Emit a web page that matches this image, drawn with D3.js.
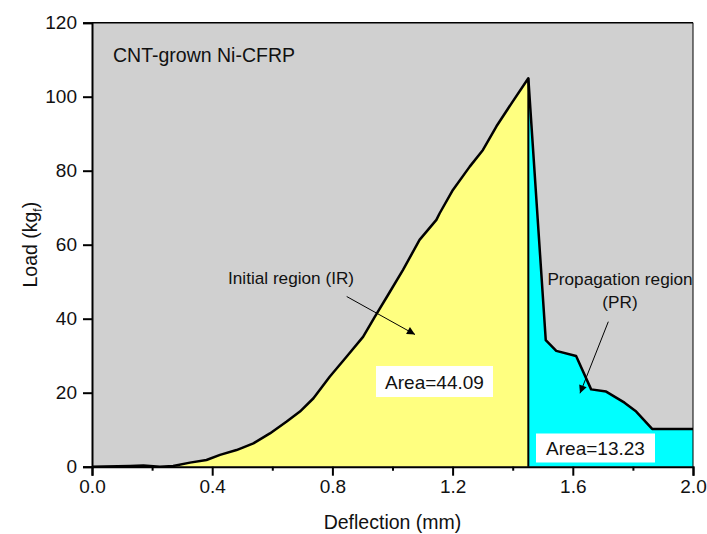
<!DOCTYPE html>
<html>
<head>
<meta charset="utf-8">
<script src="https://cdn.jsdelivr.net/npm/d3@7"></script>
<style>
  body { margin: 0; background: #fff; }
  svg text { font-family: "Liberation Sans", Arial, sans-serif; fill: #111; }
</style>
</head>
<body>
<div id="chart"></div>
<script>
// measured curve (deflection mm, load kgf)
const deflection = [0, 0.127, 0.171, 0.226, 0.27, 0.326, 0.381, 0.426, 0.481, 0.537, 0.592, 0.648,
  0.692, 0.737, 0.791, 0.847, 0.902, 0.941, 0.985, 1.035, 1.09, 1.146, 1.157, 1.201, 1.257,
  1.301, 1.346, 1.396, 1.452,
  1.51, 1.545, 1.611, 1.661, 1.711, 1.772, 1.811, 1.864, 2.0];
const load = [0, 0.2, 0.3, 0, 0.2, 1.1, 1.8, 3.2, 4.5, 6.3, 9.0, 12.2,
  14.9, 18.5, 24.3, 29.7, 35.1, 40.5, 46.4, 53.2, 61.3, 66.7, 68.5, 74.8, 81.1,
  85.6, 92.0, 98.2, 105.0,
  34.2, 31.3, 29.9, 20.9, 20.3, 17.3, 14.9, 10.2, 10.2];
const peakIndex = 28;
const xTicks = [0, 0.4, 0.8, 1.2, 1.6, 2.0];
const xMinorTicks = [0.2, 0.6, 1.0, 1.4, 1.8];
const yTicks = [0, 20, 40, 60, 80, 100, 120];

const width = 707, height = 534;
const margin = { left: 92, top: 22.7, right: 14, bottom: 67.3 };

const pts = deflection.map((d, i) => ({ x: d, y: load[i] }));
const initial = pts.slice(0, peakIndex + 1);
const propagation = pts.slice(peakIndex);

const svg = d3.select("#chart").append("svg")
  .attr("width", width).attr("height", height);

const x = d3.scaleLinear().domain([0, 2]).range([margin.left, width - margin.right]);
const y = d3.scaleLinear().domain([0, 120]).range([height - margin.bottom, margin.top]);

// plot background
svg.append("rect")
  .attr("x", x(0)).attr("y", y(120))
  .attr("width", x(2) - x(0)).attr("height", y(0) - y(120))
  .attr("fill", "#d0d0d0");

const area = d3.area().x(d => x(d.x)).y0(y(0)).y1(d => y(d.y));
svg.append("path").datum(initial).attr("d", area).attr("fill", "#ffff80");
svg.append("path").datum(propagation).attr("d", area).attr("fill", "#00ffff");

// divider at peak
svg.append("line")
  .attr("x1", x(deflection[peakIndex])).attr("x2", x(deflection[peakIndex]))
  .attr("y1", y(load[peakIndex])).attr("y2", y(0))
  .attr("stroke", "#000").attr("stroke-width", 2);

const line = d3.line().x(d => x(d.x)).y(d => y(d.y));
svg.append("path").datum(pts).attr("d", line)
  .attr("fill", "none").attr("stroke", "#000")
  .attr("stroke-width", 2.5).attr("stroke-linejoin", "round");

// frame top/right
svg.append("line").attr("x1", x(0)).attr("x2", x(2)).attr("y1", y(120)).attr("y2", y(120))
  .attr("stroke", "#000").attr("stroke-width", 1.5);
svg.append("line").attr("x1", x(2)).attr("x2", x(2)).attr("y1", y(120)).attr("y2", y(0))
  .attr("stroke", "#000").attr("stroke-width", 1);

// axes
svg.append("g").attr("transform", `translate(0,${y(0)})`)
  .call(d3.axisBottom(x).tickValues(xTicks).tickFormat(d3.format(".1f")).tickSize(9).tickPadding(4));
svg.append("g").attr("transform", `translate(0,${y(0)})`)
  .call(d3.axisBottom(x).tickValues(xMinorTicks).tickFormat("").tickSize(4))
  .select(".domain").remove();
svg.append("g").attr("transform", `translate(${x(0)},0)`)
  .call(d3.axisLeft(y).tickValues(yTicks).tickSize(9).tickPadding(6));

svg.selectAll(".domain").attr("stroke-width", 2);
svg.selectAll(".tick line").attr("stroke-width", 2);
svg.selectAll(".tick text").style("font-size", "19px").attr("fill", "#111");

// axis titles
svg.append("text").attr("x", (x(0) + x(2)) / 2).attr("y", 529)
  .attr("text-anchor", "middle").style("font-size", "19.5px").text("Deflection (mm)");
const yl = svg.append("text")
  .attr("transform", `translate(37,${(y(0) + y(120)) / 2}) rotate(-90)`)
  .attr("text-anchor", "middle").style("font-size", "19.5px");
yl.append("tspan").text("Load (kg");
yl.append("tspan").attr("dy", 5).style("font-size", "12px").text("f");
yl.append("tspan").attr("dy", -5).text(")");

// annotations
svg.append("text").attr("x", 113).attr("y", 62).style("font-size", "19.5px").text("CNT-grown Ni-CFRP");
svg.append("text").attr("x", 228).attr("y", 284).style("font-size", "17.2px").text("Initial region (IR)");
svg.append("text").attr("x", 620).attr("y", 285).attr("text-anchor", "middle")
  .style("font-size", "17.2px").text("Propagation region");
svg.append("text").attr("x", 620).attr("y", 308).attr("text-anchor", "middle")
  .style("font-size", "17.2px").text("(PR)");

const defs = svg.append("defs");
defs.append("marker").attr("id", "arrow").attr("viewBox", "0 0 10 10")
  .attr("refX", 10).attr("refY", 5).attr("markerWidth", 12).attr("markerHeight", 8)
  .attr("markerUnits", "userSpaceOnUse").attr("orient", "auto")
  .append("path").attr("d", "M0,0 L10,5 L0,10 z").attr("fill", "#000");

svg.append("line").attr("x1", 346.7).attr("y1", 296.5).attr("x2", 415).attr("y2", 334.5)
  .attr("stroke", "#000").attr("stroke-width", 1).attr("marker-end", "url(#arrow)");
svg.append("line").attr("x1", 608.3).attr("y1", 321.7).attr("x2", 580).attr("y2", 393.3)
  .attr("stroke", "#000").attr("stroke-width", 1).attr("marker-end", "url(#arrow)");

function box(bx, by, bw, bh, label) {
  svg.append("rect").attr("x", bx).attr("y", by).attr("width", bw).attr("height", bh).attr("fill", "#fff");
  svg.append("text").attr("x", bx + bw / 2).attr("y", by + bh / 2 + 7)
    .attr("text-anchor", "middle").style("font-size", "19px").text(label);
}
box(376, 366, 117, 31, "Area=44.09");
box(536, 433.5, 119, 29, "Area=13.23");
</script>
</body>
</html>
